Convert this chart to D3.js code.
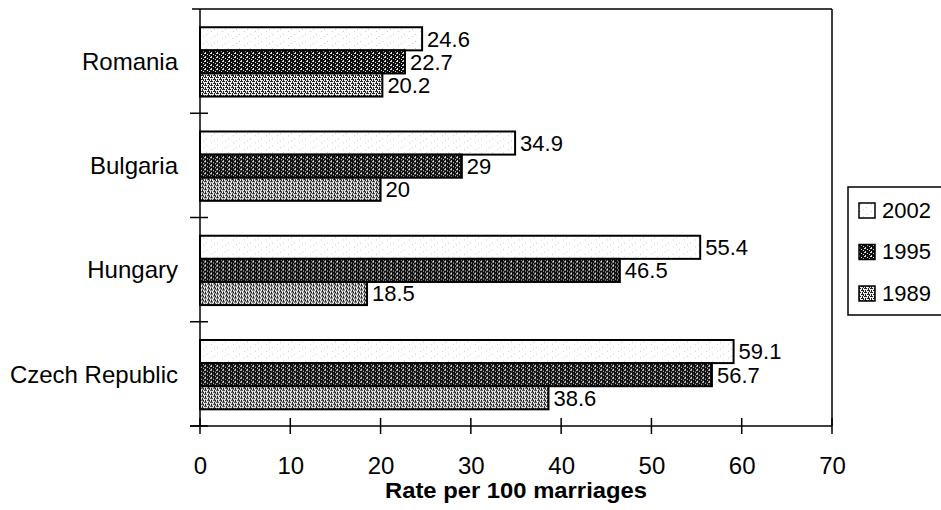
<!DOCTYPE html>
<html>
<head>
<meta charset="utf-8">
<script src="https://cdn.jsdelivr.net/npm/d3@7"></script>
<style>
  html, body { margin: 0; padding: 0; background: #fff; }
  svg { display: block; font-family: Arial, "Liberation Sans", sans-serif; }
</style>
</head>
<body>
<svg id="chart" width="941" height="510"></svg>
<script>
// Divorce rate per 100 marriages
const countries = ["Romania", "Bulgaria", "Hungary", "Czech Republic"];
const years = ["2002", "1995", "1989"];
const values2002 = [24.6, 34.9, 55.4, 59.1];
const values1995 = [22.7, 29, 46.5, 56.7];
const values1989 = [20.2, 20, 18.5, 38.6];
const xTicks = [0, 10, 20, 30, 40, 50, 60, 70];

const seriesValues = { "2002": values2002, "1995": values1995, "1989": values1989 };

const svg = d3.select("#chart");
const plotLeft = 200, plotRight = 832, plotTop = 9, plotBottom = 426;

// Fill textures for each year
const defs = svg.append("defs");
function tile(id, w, h, bg, fg, cells) {
  const p = defs.append("pattern").attr("id", id)
    .attr("patternUnits", "userSpaceOnUse").attr("width", w).attr("height", h);
  p.append("rect").attr("width", w).attr("height", h).attr("fill", bg);
  cells.forEach(c => p.append("rect").attr("x", c[0]).attr("y", c[1])
    .attr("width", c[2] || 1).attr("height", c[3] || 1).attr("fill", fg));
}
tile("pat2002", 11, 7, "#ffffff", "#cfcfcf", [[2, 1], [8, 4], [5, 6]]);
tile("pat1995", 6, 4, "#111111", "#e0e0e0", [[0, 0, 2, 1], [3, 1], [5, 2], [1, 3]]);
tile("pat1989", 6, 4, "#eeeeee", "#222222", [[0, 0, 3, 1], [4, 0, 1, 2], [1, 2, 1, 2], [3, 2, 3, 1], [5, 3]]);
const fills = { "2002": "url(#pat2002)", "1995": "url(#pat1995)", "1989": "url(#pat1989)" };

const x = d3.scaleLinear().domain([0, 70]).range([plotLeft, plotRight]);
const y0 = d3.scaleBand().domain(countries).range([plotTop, plotBottom]);
const y1 = d3.scaleBand().domain(years)
  .range([y0.step() * 0.175, y0.step() * 0.84]);

// Frame: top and right edges
svg.append("line").attr("x1", 192).attr("x2", plotRight).attr("y1", plotTop).attr("y2", plotTop)
  .attr("stroke", "#000").attr("stroke-width", 1.5);
svg.append("line").attr("x1", plotRight).attr("x2", plotRight).attr("y1", plotTop).attr("y2", plotBottom)
  .attr("stroke", "#000").attr("stroke-width", 1.5);

// Bars
const groups = svg.selectAll("g.country").data(countries).join("g")
  .attr("class", "country")
  .attr("transform", d => `translate(0,${y0(d)})`);

groups.each(function (c, i) {
  const g = d3.select(this);
  years.forEach(yr => {
    const v = seriesValues[yr][i];
    g.append("rect")
      .attr("x", x(0)).attr("y", y1(yr))
      .attr("width", x(v) - x(0)).attr("height", y1.bandwidth())
      .attr("fill", fills[yr]).attr("stroke", "#000").attr("stroke-width", 2);
    g.append("text")
      .attr("x", x(v) + 5).attr("y", y1(yr) + y1.bandwidth() / 2)
      .attr("dy", "0.36em").attr("font-size", 22).text(v);
  });
});

// Y axis with crossing ticks at category boundaries
svg.append("line").attr("x1", plotLeft).attr("x2", plotLeft).attr("y1", plotTop).attr("y2", plotBottom)
  .attr("stroke", "#000").attr("stroke-width", 1.5);
const boundaries = countries.slice(1).map(c => y0(c)).concat([plotBottom]);
svg.selectAll("line.ytick").data(boundaries).join("line")
  .attr("class", "ytick")
  .attr("x1", 190).attr("x2", 208).attr("y1", d => d).attr("y2", d => d)
  .attr("stroke", "#000").attr("stroke-width", 1.5);
svg.selectAll("text.cat").data(countries).join("text")
  .attr("class", "cat")
  .attr("x", 178).attr("y", d => y0(d) + y0.bandwidth() / 2)
  .attr("dy", "0.36em").attr("text-anchor", "end").attr("font-size", 24)
  .text(d => d);

// X axis
const xAxis = svg.append("g").attr("transform", `translate(0,${plotBottom})`)
  .call(d3.axisBottom(x).tickValues(xTicks).tickSize(0).tickPadding(31));
xAxis.select(".domain").remove();
xAxis.selectAll("text").attr("font-size", 24).attr("font-family", "Arial, 'Liberation Sans', sans-serif").attr("fill", "#000");
svg.append("line").attr("x1", 190).attr("x2", plotRight).attr("y1", plotBottom).attr("y2", plotBottom)
  .attr("stroke", "#000").attr("stroke-width", 1.5);
svg.selectAll("line.xtick").data(xTicks).join("line")
  .attr("class", "xtick")
  .attr("x1", d => x(d)).attr("x2", d => x(d)).attr("y1", plotBottom - 8).attr("y2", plotBottom + 8)
  .attr("stroke", "#000").attr("stroke-width", 1.5);

svg.append("text").attr("x", (plotLeft + plotRight) / 2).attr("y", 498).attr("text-anchor", "middle")
  .attr("font-size", 22).attr("font-weight", "bold")
  .attr("textLength", 262).attr("lengthAdjust", "spacingAndGlyphs")
  .text("Rate per 100 marriages");

// Legend
const legend = svg.append("g");
legend.append("rect").attr("x", 848).attr("y", 187).attr("width", 100).attr("height", 128)
  .attr("fill", "#fff").attr("stroke", "#000").attr("stroke-width", 1.5);
const ly = d3.scalePoint().domain(years).range([210, 293]);
years.forEach(yr => {
  legend.append("rect").attr("x", 859).attr("y", ly(yr) - 7).attr("width", 16).attr("height", 15)
    .attr("fill", fills[yr]).attr("stroke", "#000").attr("stroke-width", 1.5);
  legend.append("text").attr("x", 882).attr("y", ly(yr)).attr("dy", "0.36em")
    .attr("font-size", 22).text(yr);
});
</script>
</body>
</html>
